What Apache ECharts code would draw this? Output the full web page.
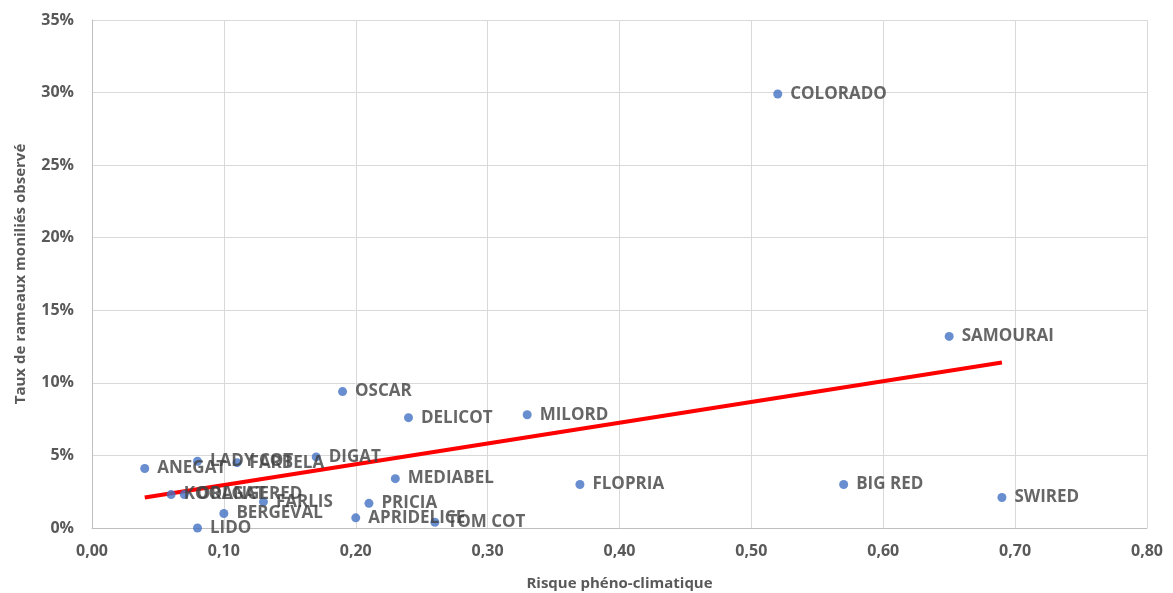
<!DOCTYPE html>
<html>
<head>
<meta charset="utf-8">
<title></title>
<script src="https://cdn.jsdelivr.net/npm/echarts@6/dist/echarts.min.js"></script>
<style>
  html, body { margin: 0; padding: 0; background: #fff; width: 100%; height: 100%; overflow: hidden; }
  #main { width: 1173px; height: 593px; }
</style>
</head>
<body>
<div id="main"></div>
<script>
// varietes, risque pheno-climatique (x) et taux de rameaux monilies (y)
var names = ['ANEGAT', 'LADY COT', 'FARBELA', 'DIGAT', 'KOOLGAT', 'ORANGERED', 'FARLIS', 'BERGEVAL', 'LIDO',
  'MEDIABEL', 'PRICIA', 'APRIDELICE', 'TOM COT', 'OSCAR', 'DELICOT', 'MILORD', 'FLOPRIA', 'COLORADO',
  'SAMOURAI', 'BIG RED', 'SWIRED'];
var risque = [0.04, 0.08, 0.11, 0.17, 0.06, 0.07, 0.13, 0.10, 0.08,
  0.23, 0.21, 0.20, 0.26, 0.19, 0.24, 0.33, 0.37, 0.52,
  0.65, 0.57, 0.69];
var taux = [0.041, 0.046, 0.045, 0.049, 0.023, 0.023, 0.018, 0.010, 0.000,
  0.034, 0.017, 0.007, 0.004, 0.094, 0.076, 0.078, 0.030, 0.299,
  0.132, 0.030, 0.021];
// courbe de tendance
var trendX = [0.04, 0.69];
var trendY = [0.021, 0.114];

var points = [];
for (var i = 0; i < names.length; i++) {
  points.push({ name: names[i], value: [risque[i], taux[i]] });
}
var trend = [];
for (var j = 0; j < trendX.length; j++) {
  trend.push([trendX[j], trendY[j]]);
}

var myChart = echarts.init(document.getElementById('main'));
var font = '"Open Sans", "DejaVu Sans", sans-serif';

var option = {
  animation: false,
  grid: { left: 92, right: 26, top: 20, bottom: 65, containLabel: false, outerBoundsMode: 'none' },
  xAxis: {
    type: 'value',
    min: 0, max: 0.8, interval: 0.1,
    name: 'Risque phéno-climatique',
    nameLocation: 'middle',
    nameGap: 48,
    nameTextStyle: { color: '#595959', fontSize: 15, fontWeight: 'bold', fontFamily: font },
    axisLine: { show: true, lineStyle: { color: '#bfbfbf', width: 1 } },
    axisTick: { show: false },
    axisLabel: {
      color: '#595959', fontSize: 16, fontWeight: 'bold', fontFamily: font, margin: 15,
      formatter: function (v) { return v.toFixed(2).replace('.', ','); }
    },
    splitLine: { show: true, lineStyle: { color: '#d9d9d9', width: 1 } }
  },
  yAxis: {
    type: 'value',
    min: 0, max: 0.35, interval: 0.05,
    name: 'Taux de rameaux moniliés observé',
    nameLocation: 'middle',
    nameGap: 64,
    nameTextStyle: { color: '#595959', fontSize: 15, fontWeight: 'bold', fontFamily: font },
    axisLine: { show: true, lineStyle: { color: '#bfbfbf', width: 1 } },
    axisTick: { show: false },
    axisLabel: {
      color: '#595959', fontSize: 16, fontWeight: 'bold', fontFamily: font, margin: 18,
      formatter: function (v) { return Math.round(v * 100) + '%'; }
    },
    splitLine: { show: true, lineStyle: { color: '#d9d9d9', width: 1 } }
  },
  series: [
    {
      type: 'line',
      data: trend,
      symbol: 'none',
      lineStyle: { color: '#ff0000', width: 4 },
      z: 3
    },
    {
      type: 'scatter',
      data: points,
      symbol: 'circle',
      symbolSize: 9,
      itemStyle: { color: '#4472c4' },
      label: {
        show: true,
        position: 'right',
        distance: 8,
        offset: [0, 2],
        formatter: '{b}',
        color: '#404040',
        fontSize: 17,
        fontWeight: 'bold',
        fontFamily: font
      },
      labelLayout: { hideOverlap: false },
      z: 4
    }
  ]
};

myChart.setOption(option);
</script>
</body>
</html>
